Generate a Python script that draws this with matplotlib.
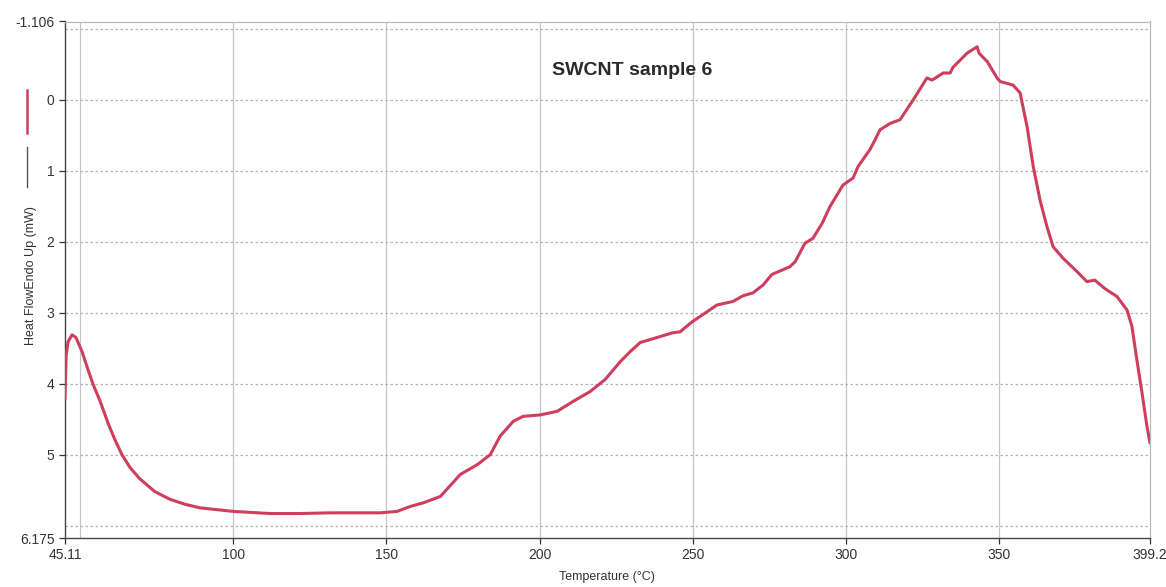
import matplotlib
matplotlib.use("Agg")
import matplotlib.pyplot as plt
from matplotlib.lines import Line2D

plt.rcParams['font.family'] = ['Liberation Sans', 'DejaVu Sans']

# Data
temperature = [45.11, 45.5, 46.1, 47.4, 48.7, 50.7, 52.6, 54.2, 56.6, 59.2, 61.4, 63.7,
               66.3, 69.5, 74.4, 79.4, 84.3, 89.2, 100.0, 112.1, 121.9, 131.7, 141.4,
               148.0, 153.5, 157.8, 162.0, 167.6, 174.1, 179.7, 183.9, 187.1, 191.4,
               194.6, 200.2, 205.7, 210.9, 216.5, 221.4, 226.3, 229.5, 232.8, 243.6,
               245.8, 249.7, 257.9, 263.1, 266.4, 269.6, 272.9, 275.8, 281.7, 283.4,
               286.6, 289.2, 292.2, 294.8, 299.0, 302.3, 303.9, 307.8, 309.5, 311.1,
               314.4, 317.6, 321.9, 326.4, 328.1, 331.7, 334.0, 334.9, 339.5, 342.8,
               343.4, 346.1, 349.3, 350.3, 354.5, 356.8, 359.1, 361.1, 363.3, 365.6,
               367.6, 370.8, 375.4, 378.6, 381.2, 384.5, 388.4, 391.7, 393.3, 394.9,
               396.6, 398.2, 399.2]
heat_flow = [4.20, 3.60, 3.41, 3.31, 3.35, 3.55, 3.80, 4.00, 4.25, 4.56, 4.79, 5.00,
             5.18, 5.34, 5.52, 5.63, 5.70, 5.75, 5.80, 5.83, 5.83, 5.82, 5.82,
             5.82, 5.80, 5.73, 5.68, 5.59, 5.28, 5.14, 5.00, 4.74, 4.53,
             4.46, 4.44, 4.39, 4.25, 4.11, 3.94, 3.69, 3.55, 3.42, 3.28,
             3.27, 3.13, 2.89, 2.84, 2.76, 2.72, 2.61, 2.46, 2.35, 2.28,
             2.02, 1.95, 1.74, 1.50, 1.20, 1.10, 0.94, 0.70, 0.56, 0.42,
             0.33, 0.28, 0.00, -0.31, -0.28, -0.38, -0.38, -0.46, -0.66, -0.75,
             -0.66, -0.54, -0.31, -0.26, -0.21, -0.10, 0.38, 0.94, 1.41, 1.79,
             2.07, 2.23, 2.42, 2.56, 2.54, 2.66, 2.77, 2.96, 3.19, 3.66,
             4.13, 4.60, 4.83]

x_min, x_max = 45.11, 399.2
y_top, y_bottom = -1.106, 6.175
x_ticks = [45.11, 100, 150, 200, 250, 300, 350, 399.2]
x_tick_labels = ["45.11", "100", "150", "200", "250", "300", "350", "399.2"]
x_grid = [50, 100, 150, 200, 250, 300, 350]
y_ticks = [-1.106, 0, 1, 2, 3, 4, 5, 6.175]
y_tick_labels = ["-1.106", "0", "1", "2", "3", "4", "5", "6.175"]
y_grid = [-1, 0, 1, 2, 3, 4, 5, 6]

title_text = "SWCNT sample 6"
x_label = "Temperature (°C)"
y_label = "Heat FlowEndo Up (mW)"

line_color = "#cf3e5c"

fig = plt.figure(figsize=(11.66, 5.87), dpi=100)
ax = fig.add_axes([65/1166, 1-538/587, (1150-65)/1166, (538-21.5)/587])

for xv in x_grid:
    ax.axvline(xv, color="#c4c4cc", lw=0.9, zorder=1)
for yv in y_grid:
    ax.axhline(yv, color="#b8b0b4", lw=0.9, ls=(0, (2, 2)), zorder=1)

ax.plot(temperature, heat_flow, color=line_color, lw=2.2, zorder=3, solid_joinstyle="round")

ax.set_xlim(x_min, x_max)
ax.set_ylim(y_bottom, y_top)
ax.set_xticks(x_ticks)
ax.set_xticklabels(x_tick_labels)
ax.set_yticks(y_ticks)
ax.set_yticklabels(y_tick_labels)
ax.tick_params(axis="both", labelsize=10, colors="#333333", length=4, width=0.9,
               direction="out")

for side in ["left", "bottom"]:
    ax.spines[side].set_color("#444444")
    ax.spines[side].set_linewidth(1.0)
for side in ["top", "right"]:
    ax.spines[side].set_color("#b8b8c0")
    ax.spines[side].set_linewidth(0.9)

ax.text(0.5226, 0.906, title_text, transform=ax.transAxes, ha="center", va="center",
        fontsize=14, fontweight="bold", color="#2a2a2a")

fig.text(607/1166, 1-577/587, x_label, ha="center", va="center", fontsize=9, color="#333333")
fig.text(31/1166, 1-276/587, y_label, ha="center", va="center", rotation=90,
         fontsize=9, color="#333333")

fig.add_artist(Line2D([27/1166, 27/1166], [1-90/587, 1-133/587], color=line_color, lw=1.8))
fig.add_artist(Line2D([27/1166, 27/1166], [1-147/587, 1-187/587], color="#555555", lw=1.0))

fig.savefig("out.png", dpi=100, facecolor="white")
